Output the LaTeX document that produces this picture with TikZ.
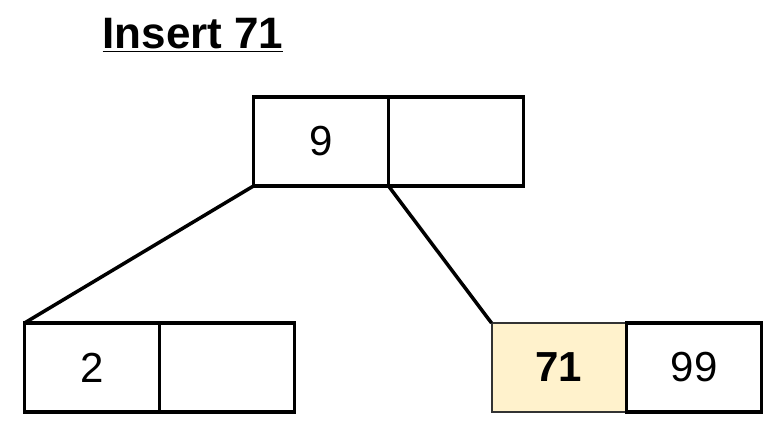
\documentclass[tikz,border=0pt]{standalone}
\usepackage{fontspec}
\setmainfont{Liberation Sans}
\usetikzlibrary{positioning}
\definecolor{keyfill}{HTML}{FFF2CC}
\definecolor{keyline}{HTML}{333333}

\begin{document}
\begin{tikzpicture}[
  x=1pt, y=-1pt,
  every node/.style={font=\fontsize{42}{46}\selectfont},
  cell/.style={draw=black, line width=3.5pt, minimum width=135pt, minimum height=89pt, inner sep=0pt, outer sep=0pt},
  newkey/.style={cell, fill=keyfill, draw=keyline, line width=2pt, font=\fontsize{42}{46}\selectfont\bfseries}
]
\useasboundingbox (0,0) rectangle (774,427);
% title
\node[font=\fontsize{44}{48}\selectfont\bfseries] (title) at (193,35) {\underline{Insert 71}};
% root
\node[cell] (root1) at (321,141.5) {9};
\node[cell, right=0pt of root1] (root2) {};
% leaves
\node[cell] (left1) at (92,367.5) {2};
\node[cell, right=0pt of left1] (left2) {};
\node[newkey] (right1) at (559,367.5) {71};
\node[cell, right=0pt of right1] (right2) {99};
% edges
\draw [line width=3.5pt] (root1.south west) -- (left1.north west);
\draw [line width=3.5pt] (root1.south east) -- (right1.north west);
\end{tikzpicture}
\end{document}
